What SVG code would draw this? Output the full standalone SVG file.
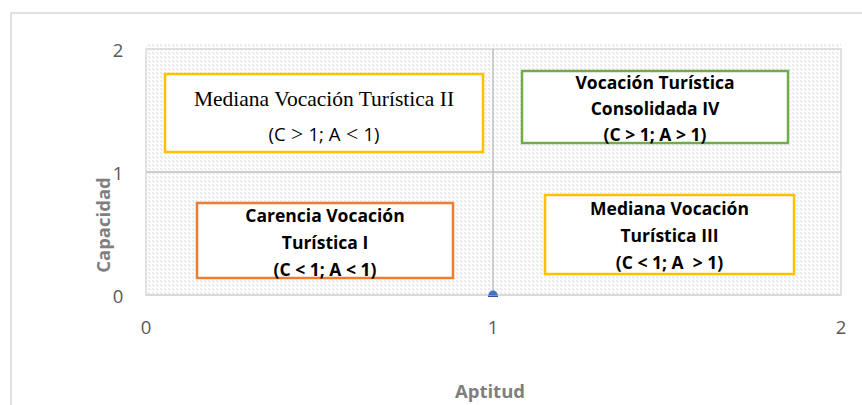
<svg xmlns="http://www.w3.org/2000/svg" width="862" height="405" viewBox="0 0 862 405">
<style>
.tick{font-family:"Open Sans",sans-serif;font-size:18.5px;fill:#595959}
.title{font-family:"Open Sans",sans-serif;font-size:18.5px;font-weight:bold;fill:#7f7f7f}
.grid{stroke:#bfbfbf;stroke-width:1.5;fill:none}
.box{fill:#fff;stroke-width:2.5}
.bt{font-family:"Open Sans",sans-serif;font-size:17.5px;font-weight:bold;fill:#000;text-anchor:middle}
.st{font-family:"Liberation Serif",serif;font-size:21.5px;fill:#000;text-anchor:middle}
.cal{font-family:"Open Sans",sans-serif;font-size:18.5px}
</style>
<defs>
<pattern id="hatch" width="8" height="8" patternUnits="userSpaceOnUse">
<rect width="8" height="8" fill="#fff"/>
<path d="M0 0 L2.5 2.5 M4 4 L6.5 6.5 M4 0 L6.5 2.5 M0 4 L2.5 6.5" stroke="#e6e6e6" stroke-width="1.4"/>
</pattern>
</defs>
<rect width="862" height="405" fill="#fff"/>
<rect x="11" y="13" width="900" height="500" fill="none" stroke="#d9d9d9" stroke-width="1.5"/>
<g id="plot">
<rect x="146" y="43" width="695" height="252" fill="url(#hatch)"/>
<rect x="146" y="49" width="695" height="246" fill="none" stroke="#d9d9d9" stroke-width="1.5"/>
<line class="grid" x1="146" y1="172" x2="841" y2="172"/>
<line class="grid" x1="493" y1="49" x2="493" y2="295"/>
<line x1="146" y1="295" x2="841" y2="295" stroke="#d9d9d9" stroke-width="2"/>
</g>
<g id="axis-labels">
<text class="tick" x="118" y="57" text-anchor="middle">2</text>
<text class="tick" x="118" y="180" text-anchor="middle">1</text>
<text class="tick" x="118" y="303" text-anchor="middle">0</text>
<text class="tick" x="146" y="334" text-anchor="middle">0</text>
<text class="tick" x="493" y="334" text-anchor="middle">1</text>
<text class="tick" x="841" y="334" text-anchor="middle">2</text>
<text class="title" x="490" y="398" text-anchor="middle">Aptitud</text>
<text class="title" transform="translate(110,225) rotate(-90)" text-anchor="middle">Capacidad</text>
</g>
<g id="marker">
<path d="M488.5 295 A4.5 4.5 0 0 1 497.5 295 Z" fill="#4472c4"/>
<rect x="488" y="295.5" width="10" height="1.5" fill="#2f5597"/>
</g>
<g id="node-II">
<rect class="box" x="165" y="74" width="318" height="78" stroke="#ffc000"/>
<text class="st" x="324" y="106">Mediana Vocación Turística II</text>
<text class="st" x="324" y="141"><tspan class="cal">(C</tspan> &gt; <tspan class="cal">1; A</tspan> &lt; <tspan class="cal">1)</tspan></text>
</g>
<g id="node-IV">
<rect class="box" x="522" y="71" width="266" height="72" stroke="#70ad47"/>
<text class="bt" x="655" y="89">Vocación Turística</text>
<text class="bt" x="655" y="115">Consolidada IV</text>
<text class="bt" x="655" y="141">(C &gt; 1; A &gt; 1)</text>
</g>
<g id="node-I">
<rect class="box" x="197" y="203" width="256" height="75" stroke="#ed7d31"/>
<text class="bt" x="325" y="222">Carencia Vocación</text>
<text class="bt" x="325" y="249">Turística I</text>
<text class="bt" x="325" y="276">(C &lt; 1; A &lt; 1)</text>
</g>
<g id="node-III">
<rect class="box" x="545" y="195" width="249" height="79" stroke="#ffc000"/>
<text class="bt" x="669.5" y="215">Mediana Vocación</text>
<text class="bt" x="669.5" y="242">Turística III</text>
<text class="bt" x="669.5" y="269" xml:space="preserve">(C &lt; 1; A  &gt; 1)</text>
</g>
<g id="connectors"/>
</svg>
